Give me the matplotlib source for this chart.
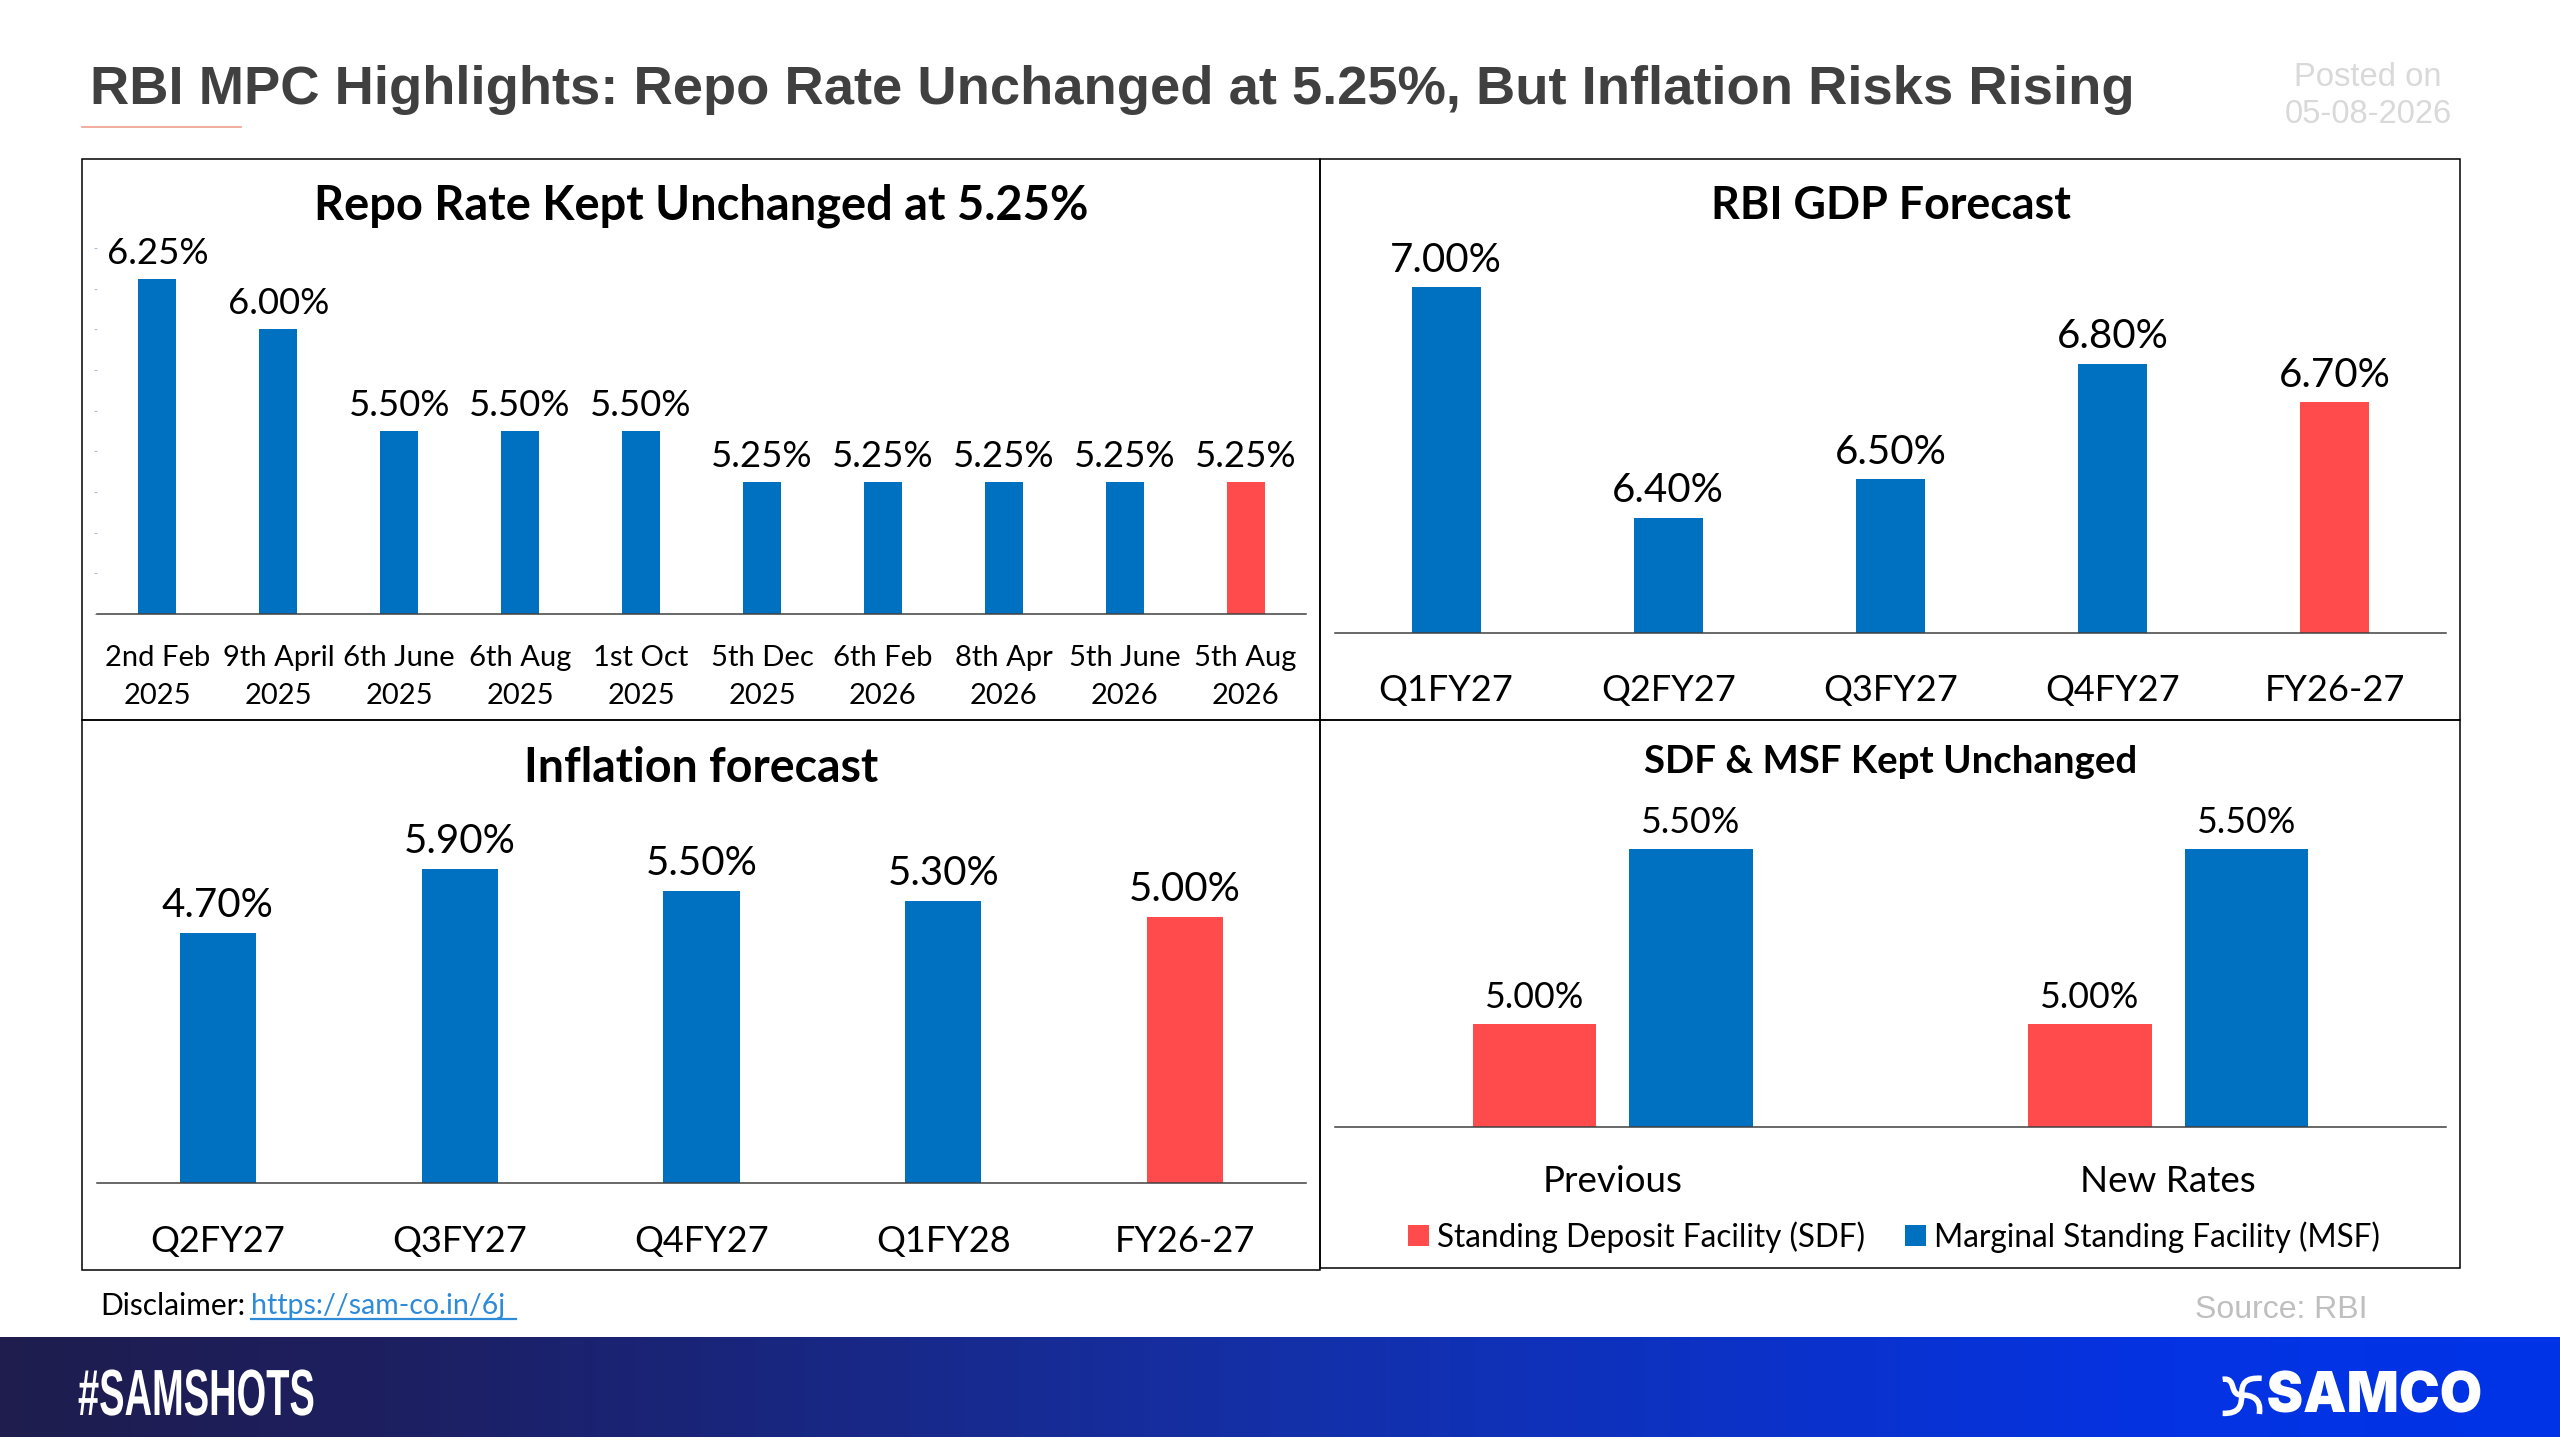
import matplotlib
matplotlib.use("Agg")
import matplotlib.pyplot as plt
import numpy as np
from matplotlib.patches import Rectangle, PathPatch
from matplotlib.path import Path
from matplotlib.patheffects import AbstractPathEffect
from matplotlib.transforms import Affine2D
from matplotlib.colors import to_rgb

W, H = 2560, 1440
BLUE = "#0070C0"
RED = "#FF4B4B"
FONT = "Lato"

main_title = "RBI MPC Highlights: Repo Rate Unchanged at 5.25%, But Inflation Risks Rising"

repo_dates = ["2nd Feb\n2025", "9th April\n2025", "6th June\n2025", "6th Aug\n2025", "1st Oct\n2025",
              "5th Dec\n2025", "6th Feb\n2026", "8th Apr\n2026", "5th June\n2026", "5th Aug\n2026"]
repo_rates = [6.25, 6.00, 5.50, 5.50, 5.50, 5.25, 5.25, 5.25, 5.25, 5.25]

gdp_periods = ["Q1FY27", "Q2FY27", "Q3FY27", "Q4FY27", "FY26-27"]
gdp_values = [7.00, 6.40, 6.50, 6.80, 6.70]

inflation_periods = ["Q2FY27", "Q3FY27", "Q4FY27", "Q1FY28", "FY26-27"]
inflation_values = [4.70, 5.90, 5.50, 5.30, 5.00]

facility_groups = ["Previous", "New Rates"]
sdf_values = [5.00, 5.00]
msf_values = [5.50, 5.50]

fig = plt.figure(figsize=(W / 100, H / 100), dpi=100, facecolor="white")


class StretchX(AbstractPathEffect):
    """Scale a text's glyph outlines horizontally about a pixel column."""

    def __init__(self, sx, x0):
        super().__init__()
        self.sx, self.x0 = sx, x0

    def draw_path(self, renderer, gc, tpath, affine, rgbFace=None):
        t = affine + Affine2D().translate(-self.x0, 0).scale(self.sx, 1).translate(self.x0, 0)
        renderer.draw_path(gc, tpath, t, rgbFace)


def axpx(x0, y0, x1, y1, **kw):
    return fig.add_axes([x0 / W, 1 - y1 / H, (x1 - x0) / W, (y1 - y0) / H], **kw)


def ftext(x, y, s, **kw):
    return fig.text(x / W, 1 - y / H, s, **kw)


# background layer: panel frames, header rule
bg = axpx(0, 0, W, H)
bg.set_xlim(0, W)
bg.set_ylim(H, 0)
bg.axis("off")
for (x0, y0, x1, y1) in [(82, 159, 1320, 720), (1320, 159, 2460, 720), (82, 720, 1320, 1270), (1320, 720, 2460, 1268)]:
    bg.add_patch(Rectangle((x0, y0), x1 - x0, y1 - y0, fill=False, ec="black", lw=1.1))
bg.plot([82, 241], [127, 127], color="#F0A08C", lw=1.2)

# footer gradient
ft = axpx(0, 1337, W, 1437)
grad = np.linspace(0, 1, 512)
stops = [0, 0.15, 0.5, 0.85, 1]
stop_cols = np.array([to_rgb(c) for c in ["#1F1D4E", "#1D1F60", "#1430A8", "#0433E3", "#0033E6"]])
img = np.stack([np.interp(grad, stops, stop_cols[:, i]) for i in range(3)], axis=1)[None, :, :]
ft.imshow(img, aspect="auto", extent=(0, W, 0, 1))
ft.axis("off")


def style(ax, ticks, labels, size, pad, spacing=1.25):
    for s in ["top", "left", "right"]:
        ax.spines[s].set_visible(False)
    ax.spines["bottom"].set_color("#404040")
    ax.spines["bottom"].set_linewidth(1.1)
    ax.set_yticks([])
    ax.set_xticks(ticks)
    ax.set_xticklabels(labels, fontsize=size, family=FONT, color="black", linespacing=spacing)
    ax.tick_params(axis="x", length=0, pad=pad)
    ax.patch.set_alpha(0)


def labels(ax, xs, ys, size, off):
    for x, y in zip(xs, ys):
        ax.annotate(f"{y:.2f}%", (x, y), xytext=(0, off), textcoords="offset pixels",
                    ha="center", va="bottom", fontsize=size, family=FONT, color="black")


def title(x, y, s, size):
    ftext(x, y, s, ha="center", va="center", fontsize=size, fontweight="bold", family=FONT, color="black")


# Panel 1
a1 = axpx(97, 248, 1306, 614)
x1 = np.arange(len(repo_rates))
a1.bar(x1, repo_rates, width=0.315, color=[BLUE] * 9 + [RED])
a1.set_xlim(-0.5, 9.5)
a1.set_ylim(4.6, 6.4)
style(a1, x1, repo_dates, 21, 22, 1.6)
a1.set_yticks(np.arange(4.6, 6.41, 0.2))
a1.set_yticklabels([])
a1.tick_params(axis="y", length=2, width=0.6, color="#8FB4D4")
labels(a1, x1, repo_rates, 26.3, 9)
title(701, 206, "Repo Rate Kept Unchanged at 5.25%", 33.8)

# Panel 2
a2 = axpx(1335, 248, 2446, 633)
x2 = np.arange(len(gdp_values))
a2.bar(x2, gdp_values, width=0.31, color=[BLUE] * 4 + [RED])
a2.set_xlim(-0.5, 4.5)
a2.set_ylim(6.1, 7.1)
style(a2, x2, gdp_periods, 26, 29.5)
labels(a2, x2, gdp_values, 29, 8)
title(1891, 206, "RBI GDP Forecast", 32.2)

# Panel 3
a3 = axpx(97, 790, 1306, 1183)
x3 = np.arange(len(inflation_values))
a3.bar(x3, inflation_values, width=0.315, color=[BLUE] * 4 + [RED])
a3.set_xlim(-0.5, 4.5)
a3.set_ylim(0, 7.39)
style(a3, x3, inflation_periods, 26, 30)
labels(a3, x3, inflation_values, 29, 9)
title(701, 768, "Inflation forecast", 33.5)

# Panel 4
a4 = axpx(1335, 790, 2446, 1127)
x4 = np.arange(len(sdf_values))
bw, gap = 0.222, 0.06
a4.bar(x4 - (bw + gap) / 2, sdf_values, width=bw, color=RED, label="Standing Deposit Facility (SDF)")
a4.bar(x4 + (bw + gap) / 2, msf_values, width=bw, color=BLUE, label="Marginal Standing Facility (MSF)")
a4.set_xlim(-0.5, 1.5)
a4.set_ylim(4.706, 4.706 + 337 / 350)
style(a4, x4, facility_groups, 26.5, 27)
labels(a4, x4 - (bw + gap) / 2, sdf_values, 25.7, 10)
labels(a4, x4 + (bw + gap) / 2, msf_values, 25.7, 10)
title(1891, 762, "SDF & MSF Kept Unchanged", 27.6)
fig.legend(loc="center", bbox_to_anchor=(1894 / W, 1 - 1237 / H), ncol=2, frameon=False,
           prop={"family": FONT, "size": 22.7}, handlelength=0.68, handleheight=0.64,
           handletextpad=0.26, columnspacing=1.25)

# Header and footer text
ftext(90, 90, main_title, ha="left", va="center", fontsize=39.2, fontweight="bold", family="Liberation Sans", color="#404040")
ftext(2368, 96, "Posted on\n05-08-2026", ha="center", va="center", fontsize=23.6, family="Liberation Sans", color="#D9D9D9", linespacing=1.25)
ftext(100, 1306, "Disclaimer:", ha="left", va="center", fontsize=21.5, family=FONT, color="black")
ftext(251, 1306, "https://sam-co.in/6j", ha="left", va="center", fontsize=20.5, family=FONT, color="#2E8BD8")
bg.plot([251, 516], [1319, 1319], color="#2E8BD8", lw=1.6)
ftext(2281, 1310, "Source: RBI", ha="center", va="center", fontsize=23, family="Liberation Sans", color="#BFBFBF")

t1 = ftext(78, 1398, "#SAMSHOTS", ha="left", va="center", fontsize=47, fontweight="bold",
           family="Liberation Sans", color="white", zorder=10)
t1.set_path_effects([StretchX(0.583, 78)])
t2 = ftext(2482, 1397, "SAMCO", ha="right", va="center", fontsize=40.6, fontweight="black",
           family="Inter", color="white", zorder=10)
t2.set_path_effects([StretchX(0.97, 2482)])

# logo pinwheel mark
top = axpx(0, 0, W, H)
top.set_xlim(0, W)
top.set_ylim(H, 0)
top.axis("off")
top.patch.set_alpha(0)


def zc(x, y):
    return (2180 + x / 3, 1340 + y / 3)


arms = [[(128, 118), (172, 112), (145, 165), (185, 165)],
        [(245, 115), (195, 112), (185, 130), (185, 165)],
        [(238, 222), (245, 175), (215, 165), (185, 165)],
        [(128, 220), (180, 222), (185, 195), (185, 165)]]
for arm in arms:
    top.add_patch(PathPatch(Path([zc(*p) for p in arm], [Path.MOVETO, Path.CURVE4, Path.CURVE4, Path.CURVE4]),
                            fill=False, ec="white", lw=4.0, capstyle="butt"))

fig.savefig("out.png", dpi=100)
